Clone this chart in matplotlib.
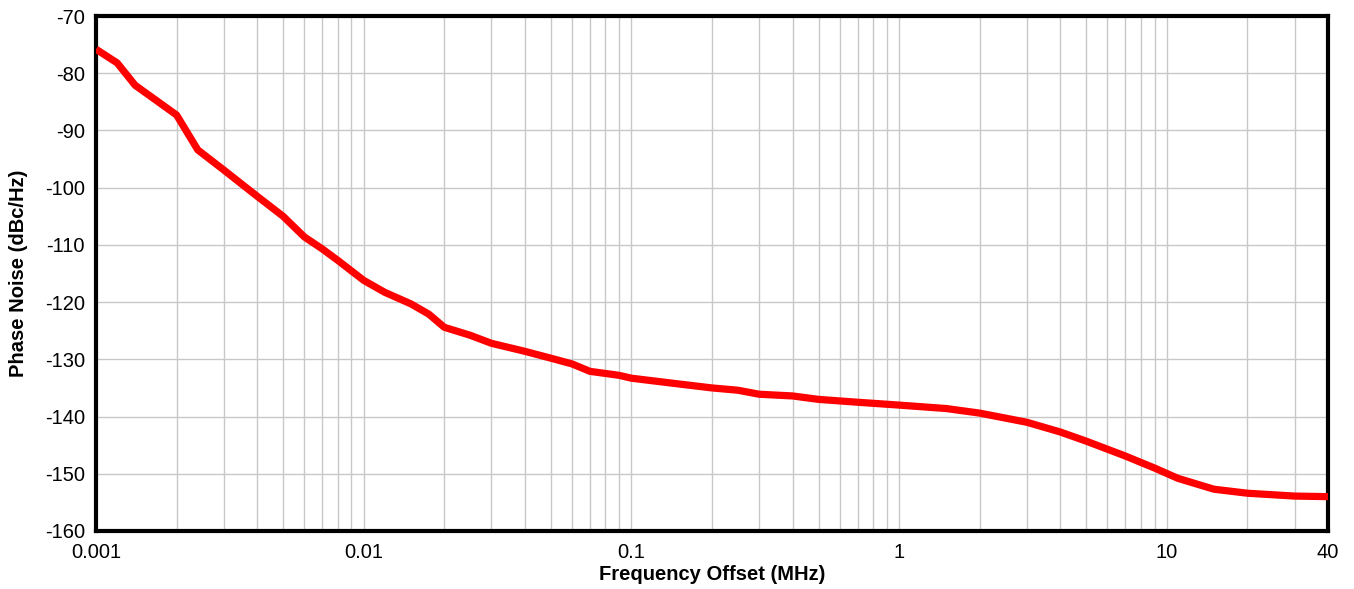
import matplotlib
matplotlib.use("Agg")
import matplotlib.pyplot as plt
import matplotlib.ticker as mticker

# Frequency offset (MHz) and phase noise (dBc/Hz)
freq_mhz = [0.001, 0.0012, 0.0014, 0.002, 0.0024, 0.003, 0.004, 0.005, 0.006,
            0.007, 0.008, 0.01, 0.012, 0.015, 0.0175, 0.02, 0.025, 0.03, 0.04,
            0.05, 0.06, 0.07, 0.09, 0.1, 0.15, 0.2, 0.25, 0.3, 0.4, 0.5, 0.7,
            1, 1.5, 2, 3, 4, 5, 7, 9, 11, 15, 20, 30, 40]
phase_noise = [-75.8, -78.2, -82.1, -87.3, -93.4, -96.9, -101.5, -105.0, -108.6,
               -110.7, -112.7, -116.2, -118.3, -120.3, -122.1, -124.4, -125.8, -127.2, -128.6,
               -129.8, -130.8, -132.1, -132.8, -133.3, -134.3, -135.0, -135.4, -136.1, -136.4, -137.0, -137.5,
               -138.0, -138.6, -139.4, -141.0, -142.7, -144.3, -146.9, -149.0, -150.8, -152.7, -153.4, -153.9, -154.0]

x_ticks = [0.001, 0.01, 0.1, 1, 10, 40]
x_ticklabels = ["0.001", "0.01", "0.1", "1", "10", "40"]
y_ticks = list(range(-160, -69, 10))

plt.rcParams['font.family'] = ['Liberation Sans', 'DejaVu Sans']
plt.rcParams['axes.unicode_minus'] = False

fig = plt.figure(figsize=(13.54, 5.89), dpi=100)
ax = fig.add_axes([0.0709, 0.0985, 0.9099, 0.8743])

ax.plot(freq_mhz, phase_noise, color='#ff0000', linewidth=5.2, solid_joinstyle='round',
        solid_capstyle='butt', zorder=3)

ax.set_xscale('log')
ax.set_xlim(0.001, 40)
ax.set_ylim(-160, -70)

ax.set_xticks(x_ticks)
ax.set_xticklabels(x_ticklabels)
ax.xaxis.set_minor_locator(mticker.LogLocator(base=10, subs=range(2, 10), numticks=20))
ax.xaxis.set_minor_formatter(mticker.NullFormatter())
ax.set_yticks(y_ticks)

ax.grid(which='major', axis='both', color='#c8c8c8', linewidth=1.0)
ax.grid(which='minor', axis='x', color='#c8c8c8', linewidth=1.0)
ax.tick_params(which='both', length=0, labelsize=14.5)
ax.tick_params(axis='x', pad=9)
ax.tick_params(axis='y', pad=8)

for s in ax.spines.values():
    s.set_linewidth(3)
    s.set_color('black')

ax.set_xlabel('Frequency Offset (MHz)', fontsize=14.5, fontweight='bold', labelpad=2)
ax.set_ylabel('Phase Noise (dBc/Hz)', fontsize=14.5, fontweight='bold', labelpad=12)

fig.savefig('out.png', dpi=100)
